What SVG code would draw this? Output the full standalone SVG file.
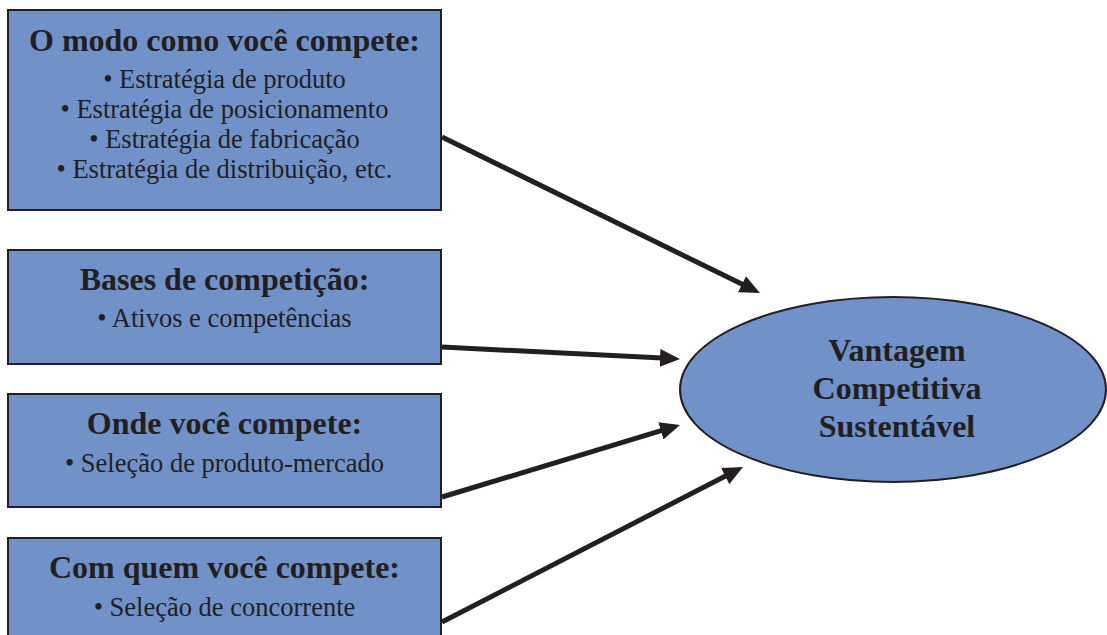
<svg xmlns="http://www.w3.org/2000/svg" width="1107" height="635" viewBox="0 0 1107 635">
  <style>
    .box { fill: #7191c9; stroke: #231f20; stroke-width: 2; }
    .title { font-family: "Liberation Serif", "Times New Roman", serif; font-weight: bold; font-size: 32px; fill: #231f20; text-anchor: middle; }
    .item { font-family: "Liberation Serif", "Times New Roman", serif; font-size: 26.5px; fill: #231f20; text-anchor: middle; }
    .conn { stroke: #231f20; stroke-width: 5; fill: none; marker-end: url(#head); }
  </style>
  <defs>
    <marker id="head" markerUnits="userSpaceOnUse" markerWidth="20" markerHeight="18" viewBox="0 0 20 18" refX="2" refY="9" orient="auto">
      <path d="M0,0 L20,9 L0,18 z" fill="#231f20"/>
    </marker>
  </defs>
  <rect width="1107" height="635" fill="#ffffff"/>

  <g id="modo">
    <rect class="box" x="8" y="10" width="433" height="200"/>
    <text class="title" x="224.5" y="51">O modo como você compete:</text>
    <text class="item" x="224.5" y="88">• Estratégia de produto</text>
    <text class="item" x="224.5" y="118">• Estratégia de posicionamento</text>
    <text class="item" x="224.5" y="148">• Estratégia de fabricação</text>
    <text class="item" x="224.5" y="178">• Estratégia de distribuição, etc.</text>
  </g>

  <g id="bases">
    <rect class="box" x="8" y="250" width="433" height="114"/>
    <text class="title" x="224.5" y="290">Bases de competição:</text>
    <text class="item" x="224.5" y="327">• Ativos e competências</text>
  </g>

  <g id="onde">
    <rect class="box" x="8" y="394" width="433" height="113"/>
    <text class="title" x="224.5" y="434">Onde você compete:</text>
    <text class="item" x="224.5" y="472">• Seleção de produto-mercado</text>
  </g>

  <g id="quem">
    <rect class="box" x="8" y="538" width="433" height="110"/>
    <text class="title" x="224.5" y="578">Com quem você compete:</text>
    <text class="item" x="224.5" y="616">• Seleção de concorrente</text>
  </g>

  <g id="vantagem">
    <ellipse class="box" cx="893" cy="389.5" rx="213" ry="92.5"/>
    <text class="title" x="897" y="361">Vantagem</text>
    <text class="title" x="897" y="399">Competitiva</text>
    <text class="title" x="897" y="437">Sustentável</text>
  </g>

  <g id="connectors">
    <path class="conn" d="M442,137 L743.8,285.1"/>
    <path class="conn" d="M442,347 L662,358.1"/>
    <path class="conn" d="M442,497 L662.8,430.2"/>
    <path class="conn" d="M442,622 L727,475.2"/>
  </g>
</svg>
